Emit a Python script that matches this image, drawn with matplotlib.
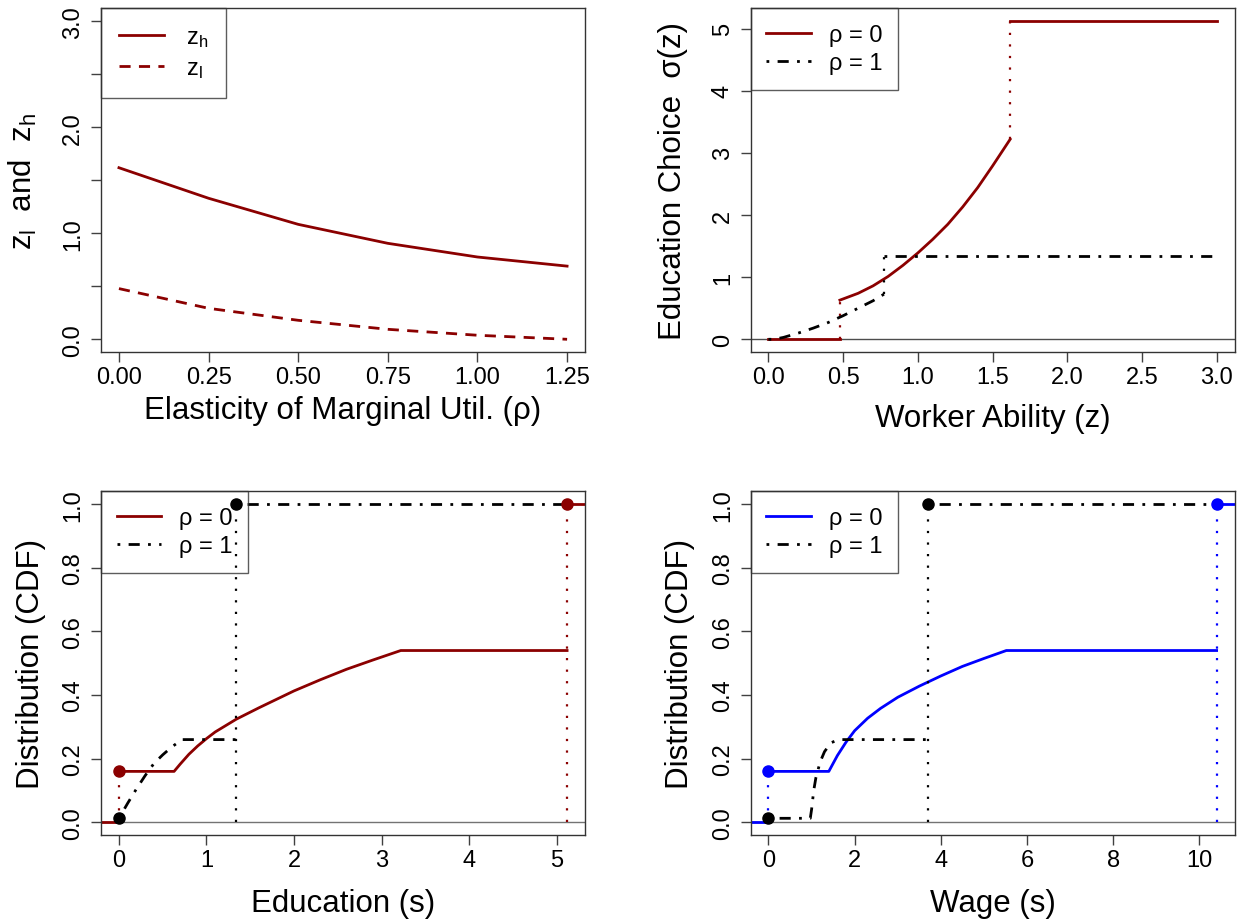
import matplotlib
matplotlib.use("Agg")
import matplotlib.pyplot as plt

plt.rcParams['font.family'] = ['Liberation Sans', 'DejaVu Sans']
plt.rcParams['mathtext.fontset'] = 'custom'
plt.rcParams['mathtext.rm'] = 'Liberation Sans'
plt.rcParams['mathtext.it'] = 'Liberation Sans'

# panel 1: cutoffs against rho
rho = [0.0, 0.25, 0.5, 0.75, 1.0, 1.25]
z_h = [1.618, 1.33, 1.084, 0.905, 0.776, 0.69]
z_l = [0.478, 0.292, 0.179, 0.094, 0.038, 0.0]

# panel 2: education choice sigma(z)
z_max = 3.0
sig0_z = [0.478, 0.6, 0.7, 0.8, 0.9, 1.0, 1.1, 1.2, 1.3, 1.4, 1.5, 1.618]
sig0 = [0.63, 0.74, 0.86, 1.01, 1.19, 1.39, 1.61, 1.85, 2.13, 2.44, 2.79, 3.22]
sig0_top = 5.12
sig1_z = [0.0, 0.038, 0.1, 0.2, 0.3, 0.4, 0.5, 0.6, 0.7, 0.776]
sig1 = [0.0, 0.0, 0.03, 0.1, 0.18, 0.27, 0.38, 0.5, 0.62, 0.73]
sig1_top = 1.338

# panel 3: CDF of education
mass0 = 0.16      # F(z_l), rho = 0
mass1 = 0.0125    # F(z_l), rho = 1
edu0_s = [0.63, 0.7, 0.8, 0.9, 1.0, 1.1, 1.34, 1.6, 2.0, 2.3, 2.6, 2.9, 3.22]
edu0_F = [0.16, 0.183, 0.214, 0.24, 0.263, 0.284, 0.324, 0.36, 0.413, 0.448, 0.481, 0.51, 0.54]
edu1_s = [0.0, 0.1, 0.2, 0.3, 0.4, 0.5, 0.6, 0.72]
edu1_F = [0.0125, 0.06, 0.105, 0.147, 0.185, 0.212, 0.236, 0.26]

# panel 4: CDF of wages
wage0_top = 10.4
wage1_top = 3.70
wage0_w = [1.40, 1.6, 1.8, 2.0, 2.3, 2.6, 3.0, 3.5, 4.0, 4.5, 5.0, 5.52]
wage0_F = [0.16, 0.21, 0.252, 0.288, 0.327, 0.358, 0.393, 0.428, 0.46, 0.49, 0.515, 0.54]
wage1_w = [0.0, 0.97, 1.0, 1.05, 1.1, 1.2, 1.3, 1.45, 1.63]
wage1_F = [0.0125, 0.0125, 0.04, 0.10, 0.14, 0.19, 0.222, 0.25, 0.26]

RED = '#8B0000'
BLUE = '#0000FF'
LW = 2.0
DOTDASH = (0, (1, 3, 4, 3))
DASHED = (0, (4, 3))
DOTTED = (0, (1, 4.2))
TICK_FS = 17
LAB_FS = 22.5


def rlim(lo, hi):
    # R style 4% padding
    d = (hi - lo) * 0.04
    return lo - d, hi + d


def style(ax, xt, xl, yt, yl):
    ax.set_xticks(xt)
    ax.set_xticklabels(xl)
    ax.set_yticks(yt)
    ax.set_yticklabels(yl, rotation=90, va='center')
    ax.tick_params(axis='both', direction='out', length=7, width=1,
                   labelsize=TICK_FS, color='0.25')
    ax.tick_params(axis='x', pad=3)
    ax.tick_params(axis='y', pad=5)
    for s in ax.spines.values():
        s.set_linewidth(1)
        s.set_color('0.2')


def legend(ax, handles, labels, **kw):
    leg = ax.legend(handles, labels, loc='upper left', bbox_to_anchor=(0, 1),
                    borderaxespad=0, fancybox=False, fontsize=TICK_FS,
                    handlelength=1.9, **kw)
    leg.get_frame().set_facecolor('none')
    leg.get_frame().set_edgecolor('0.2')
    leg.get_frame().set_linewidth(1)
    return leg


fig = plt.figure(figsize=(12.41, 9.2), dpi=100)
W, H = 0.39, 0.3734
ax1 = fig.add_axes([0.0814, 0.6163, W, H])
ax2 = fig.add_axes([0.6048, 0.6163, W, H])
ax3 = fig.add_axes([0.0814, 0.0913, W, H])
ax4 = fig.add_axes([0.6048, 0.0913, W, H])

# ---- panel 1
ax1.plot(rho, z_h, color=RED, lw=LW)
ax1.plot(rho, z_l, color=RED, lw=LW, linestyle=DASHED)
ax1.set_xlim(*rlim(0, max(rho)))
ax1.set_ylim(*rlim(0, 3))
style(ax1, rho, ['%.2f' % r for r in rho],
      [0, 0.5, 1, 1.5, 2, 2.5, 3], ['0.0', '', '1.0', '', '2.0', '', '3.0'])
ax1.set_xlabel('Elasticity of Marginal Util. (ρ)', fontsize=LAB_FS, labelpad=5)
ax1.set_ylabel(r'$\mathregular{z_l}$  and  $\mathregular{z_h}$', fontsize=LAB_FS, labelpad=17)
h1, = ax1.plot([], [], color=RED, lw=LW)
h2, = ax1.plot([], [], color=RED, lw=LW, linestyle=DASHED)
legend(ax1, [h1, h2], [r'$\mathregular{z_h}$', r'$\mathregular{z_l}$'],
       borderpad=0.76, labelspacing=0.33, handletextpad=0.95)

# ---- panel 2
ax2.set_xlim(*rlim(0, z_max))
ax2.set_ylim(*rlim(0, sig0_top))
ax2.axhline(0, color='0.3', lw=1)
ax2.plot([0, z_l[0]], [0, 0], color=RED, lw=LW)
ax2.plot([z_l[0], z_l[0]], [0, sig0[0]], color=RED, lw=1.6, linestyle=DOTTED)
ax2.plot(sig0_z, sig0, color=RED, lw=LW)
ax2.plot([z_h[0], z_h[0]], [sig0[-1], sig0_top], color=RED, lw=1.6, linestyle=DOTTED)
ax2.plot([z_h[0], z_max], [sig0_top, sig0_top], color=RED, lw=LW)
ax2.plot(sig1_z, sig1, color='black', lw=LW, linestyle=DOTDASH)
ax2.plot([sig1_z[-1], sig1_z[-1]], [sig1[-1], sig1_top], color='black', lw=1.6, linestyle=DOTTED)
ax2.plot([sig1_z[-1], z_max], [sig1_top, sig1_top], color='black', lw=LW, linestyle=DOTDASH)
style(ax2, [0, 0.5, 1, 1.5, 2, 2.5, 3], ['0.0', '0.5', '1.0', '1.5', '2.0', '2.5', '3.0'],
      [0, 1, 2, 3, 4, 5], ['0', '1', '2', '3', '4', '5'])
ax2.set_xlabel('Worker Ability (z)', fontsize=LAB_FS, labelpad=11)
ax2.set_ylabel('Education Choice  σ(z)', fontsize=LAB_FS, labelpad=17)
h1, = ax2.plot([], [], color=RED, lw=LW)
h2, = ax2.plot([], [], color='black', lw=LW, linestyle=DOTDASH)
legend(ax2, [h1, h2], ['ρ = 0', 'ρ = 1'], borderpad=0.66, labelspacing=0.25,
       handletextpad=0.75)

# ---- panel 3 and 4 share the same layout


def cdf_panel(ax, col, top0, s0, F0, top1, s1, F1):
    ax.set_xlim(*rlim(0, top0))
    ax.set_ylim(*rlim(0, 1))
    x0, x1 = ax.get_xlim()
    ax.axhline(0, color='0.45', lw=1)
    ax.plot([x0, 0], [0, 0], color=col, lw=LW)
    ax.plot([0, 0], [0, mass0], color=col, lw=1.6, linestyle=DOTTED)
    ax.plot([0, s0[0]] + s0 + [top0], [mass0, F0[0]] + F0 + [F0[-1]], color=col, lw=LW)
    ax.plot([top0, top0], [0, 1], color=col, lw=1.6, linestyle=DOTTED)
    ax.plot(s1 + [top1], F1 + [F1[-1]], color='black', lw=LW, linestyle=DOTDASH)
    ax.plot([top1, top1], [0, 1], color='black', lw=1.6, linestyle=DOTTED)
    ax.plot([top1, top0], [1, 1], color='black', lw=LW, linestyle=DOTDASH)
    ax.plot([top0, x1], [1, 1], color=col, lw=LW)
    ax.plot([0, top0], [mass0, 1], 'o', color=col, ms=8, zorder=5)
    ax.plot([0, top1], [mass1, 1], 'o', color='black', ms=8, zorder=5)
    ax.set_ylabel('Distribution (CDF)', fontsize=LAB_FS, labelpad=12)
    h1, = ax.plot([], [], color=col, lw=LW)
    h2, = ax.plot([], [], color='black', lw=LW, linestyle=DOTDASH)
    legend(ax, [h1, h2], ['ρ = 0', 'ρ = 1'], borderpad=0.66, labelspacing=0.25,
           handletextpad=0.75)


cdf_panel(ax3, RED, sig0_top, edu0_s, edu0_F, sig1_top, edu1_s, edu1_F)
style(ax3, [0, 1, 2, 3, 4, 5], ['0', '1', '2', '3', '4', '5'],
      [0, 0.2, 0.4, 0.6, 0.8, 1.0], ['0.0', '0.2', '0.4', '0.6', '0.8', '1.0'])
ax3.set_xlabel('Education (s)', fontsize=LAB_FS, labelpad=12)

cdf_panel(ax4, BLUE, wage0_top, wage0_w, wage0_F, wage1_top, wage1_w, wage1_F)
style(ax4, [0, 2, 4, 6, 8, 10], ['0', '2', '4', '6', '8', '10'],
      [0, 0.2, 0.4, 0.6, 0.8, 1.0], ['0.0', '0.2', '0.4', '0.6', '0.8', '1.0'])
ax4.set_xlabel('Wage (s)', fontsize=LAB_FS, labelpad=12)

fig.savefig('out.png', dpi=100)
